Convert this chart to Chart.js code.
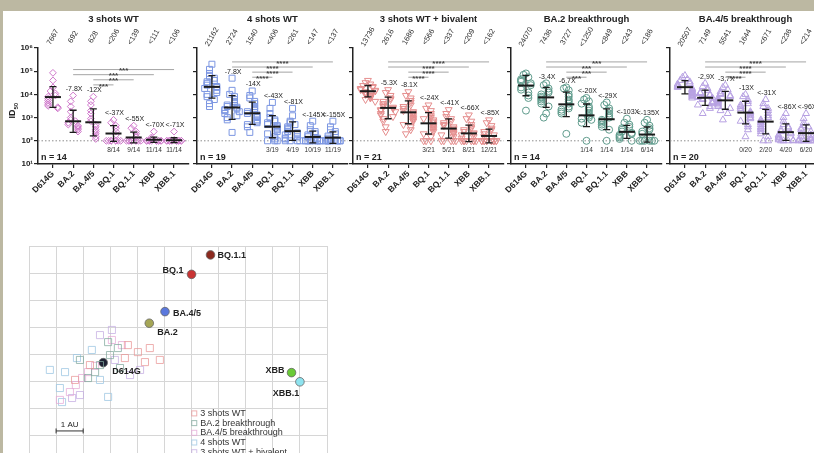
<!DOCTYPE html>
<html>
<head>
<meta charset="utf-8">
<script src="https://cdn.jsdelivr.net/npm/chart.js@4.4.1/dist/chart.umd.min.js"></script>
<style>
  html, body { margin: 0; padding: 0; background: #fff; }
  body { width: 814px; height: 453px; overflow: hidden; position: relative; }
  canvas { position: absolute; }
  .frame { position: absolute; background: #bcb8a2; z-index: 5; }
</style>
</head>
<body>
<div class="frame" style="left:0;top:0;width:814px;height:11px"></div>
<div class="frame" style="left:0;top:0;width:3px;height:453px"></div>
<canvas id="p1"></canvas>
<canvas id="p2"></canvas>
<canvas id="p3"></canvas>
<canvas id="p4"></canvas>
<canvas id="p5"></canvas>
<canvas id="map"></canvas>
<script>
const FONT = '"Liberation Sans", Arial, Helvetica, sans-serif';
Chart.defaults.font.family = FONT;
Chart.defaults.color = '#222';

// ---- data ----
const categories = ['D614G', 'BA.2', 'BA.4/5', 'BQ.1', 'BQ.1.1', 'XBB', 'XBB.1'];
const yTickValues = [10, 100, 1000, 10000, 100000, 1000000];
const sigPairs = [[1, 6], [1, 5], [2, 4], [2, 3]];

// 3 shots WT (ID50 per serum)
const wt3Titers = [
  [85000, 40000, 20000, 14000, 11000, 9000, 8000, 6500, 5500, 4500, 3800, 3200, 2800, 2500],
  [9000, 5000, 3000, 1800, 1000, 800, 700, 600, 500, 450, 400, 350, 300, 250],
  [8000, 5000, 3500, 2000, 1500, 900, 700, 500, 400, 300, 250, 200, 150, 120],
  [800, 600, 450, 350, 250, 180, 100, 100, 100, 100, 100, 100, 100, 100],
  [450, 350, 250, 200, 150, 100, 100, 100, 100, 100, 100, 100, 100, 100],
  [250, 140, 120, 100, 100, 100, 100, 100, 100, 100, 100, 100, 100, 100],
  [250, 110, 105, 100, 100, 100, 100, 100, 100, 100, 100, 100, 100, 100]
];
const wt3Gmt = [7667, 692, 628, 206, 139, 111, 106];
const wt3GmtLabels = ['7667', '692', '628', '<206', '<139', '<111', '<106'];
const wt3Fold = ['', '-7.8X', '-12X', '<-37X', '<-55X', '<-70X', '<-71X'];
const wt3BelowLod = ['', '', '', '8/14', '9/14', '11/14', '11/14'];

// 4 shots WT
const wt4Titers = [
  [200000, 120000, 80000, 60000, 50000, 40000, 35000, 30000, 25000, 22000, 20000, 18000, 15000, 12000, 10000, 8000, 6000, 4000, 3000],
  [50000, 15000, 10000, 8000, 6000, 5000, 4000, 3500, 3000, 2800, 2500, 2200, 2000, 1800, 1500, 1200, 1000, 800, 230],
  [14000, 9000, 7000, 5000, 4000, 3000, 2500, 2000, 1800, 1500, 1300, 1100, 1000, 800, 700, 600, 500, 400, 230],
  [4500, 2500, 1500, 1000, 800, 700, 600, 500, 450, 400, 350, 300, 250, 200, 150, 120, 100, 100, 100],
  [2500, 1200, 700, 600, 500, 400, 350, 300, 250, 220, 200, 180, 150, 130, 120, 100, 100, 100, 100],
  [700, 450, 300, 250, 200, 180, 150, 130, 120, 100, 100, 100, 100, 100, 100, 100, 100, 100, 100],
  [700, 400, 300, 250, 200, 160, 130, 110, 100, 100, 100, 100, 100, 100, 100, 100, 100, 100, 100]
];
const wt4Gmt = [21162, 2724, 1540, 406, 261, 147, 137];
const wt4GmtLabels = ['21162', '2724', '1540', '<406', '<261', '<147', '<137'];
const wt4Fold = ['', '-7.8X', '-14X', '<-43X', '<-81X', '<-145X', '<-155X'];
const wt4BelowLod = ['', '', '', '3/19', '4/19', '10/19', '11/19'];

// 3 shots WT + bivalent
const bivTiters = [
  [40000, 32000, 28000, 24000, 22000, 20000, 18000, 16000, 15000, 14000, 13000, 12000, 11000, 10000, 9500, 9000, 8000, 7500, 7000, 6000, 5000],
  [16000, 12000, 9000, 7000, 6000, 5000, 4000, 3500, 3000, 2800, 2500, 2200, 2000, 1800, 1500, 1300, 1100, 900, 700, 400, 250],
  [13000, 9000, 7000, 5500, 4500, 3500, 3000, 2500, 2000, 1800, 1600, 1400, 1200, 1000, 900, 800, 700, 500, 400, 300, 200],
  [3500, 2500, 2000, 1500, 1200, 1000, 900, 800, 700, 600, 500, 450, 400, 350, 300, 250, 200, 150, 100, 100, 100],
  [2200, 1500, 1100, 900, 700, 600, 500, 450, 400, 350, 300, 250, 220, 200, 180, 150, 100, 100, 100, 100, 100],
  [1300, 900, 700, 500, 400, 350, 300, 250, 220, 200, 180, 150, 130, 100, 100, 100, 100, 100, 100, 100, 100],
  [800, 600, 450, 350, 300, 250, 200, 180, 150, 100, 100, 100, 100, 100, 100, 100, 100, 100, 100, 100, 100]
];
const bivGmt = [13736, 2616, 1686, 566, 337, 209, 162];
const bivGmtLabels = ['13736', '2616', '1686', '<566', '<337', '<209', '<162'];
const bivFold = ['', '-5.3X', '-8.1X', '<-24X', '<-41X', '<-66X', '<-85X'];
const bivBelowLod = ['', '', '', '3/21', '5/21', '8/21', '12/21'];

// BA.2 breakthrough
const ba2btTiters = [
  [80000, 70000, 55000, 45000, 40000, 35000, 30000, 25000, 20000, 16000, 12000, 9000, 7000, 2000],
  [30000, 25000, 18000, 14000, 12000, 10000, 8000, 7000, 6000, 5000, 4000, 3000, 1500, 1000],
  [20000, 18000, 15000, 10000, 8000, 6000, 5000, 4000, 3000, 2500, 2200, 1800, 1500, 200],
  [7000, 6000, 5000, 4000, 3000, 2500, 2000, 1500, 1200, 1000, 900, 800, 600, 100],
  [4500, 3500, 2500, 2000, 1500, 1200, 1000, 800, 700, 600, 500, 400, 300, 100],
  [900, 600, 500, 400, 350, 300, 250, 220, 200, 180, 160, 140, 120, 100],
  [800, 600, 450, 350, 300, 250, 200, 150, 100, 100, 100, 100, 100, 100]
];
const ba2btGmt = [24070, 7436, 3727, 1250, 849, 243, 186];
const ba2btGmtLabels = ['24070', '7436', '3727', '<1250', '<849', '<243', '<186'];
const ba2btFold = ['', '-3.4X', '-6.7X', '<-20X', '<-29X', '<-103X', '<-135X'];
const ba2btBelowLod = ['', '', '', '1/14', '1/14', '1/14', '6/14'];

// BA.4/5 breakthrough
const ba45btTiters = [
  [65000, 55000, 45000, 40000, 35000, 30000, 28000, 25000, 22000, 20000, 18000, 16000, 15000, 13000, 12000, 11000, 10000, 9000, 8000, 7000],
  [30000, 22000, 18000, 15000, 12000, 11000, 10000, 9000, 8000, 7500, 7000, 6500, 6000, 5000, 4500, 4000, 3500, 3000, 2500, 1500],
  [25000, 20000, 16000, 13000, 11000, 10000, 9000, 8000, 7000, 6000, 5500, 5000, 4500, 4000, 3500, 3000, 2500, 2000, 1500, 800],
  [10000, 8000, 6000, 5000, 4000, 3500, 3000, 2500, 2000, 1800, 1600, 1400, 1200, 1000, 900, 700, 500, 400, 300, 150],
  [6000, 4000, 3000, 2500, 2000, 1500, 1200, 1000, 800, 700, 600, 500, 400, 350, 300, 250, 200, 150, 100, 100],
  [1500, 1000, 700, 500, 400, 350, 300, 250, 220, 200, 180, 160, 140, 120, 110, 105, 100, 100, 100, 100],
  [1500, 900, 600, 450, 400, 350, 300, 250, 200, 180, 150, 130, 120, 110, 100, 100, 100, 100, 100, 100]
];
const ba45btGmt = [20507, 7149, 5541, 1644, 671, 236, 214];
const ba45btGmtLabels = ['20507', '7149', '5541', '1644', '<671', '<236', '<214'];
const ba45btFold = ['', '-2.9X', '-3.7X', '-13X', '<-31X', '<-86X', '<-96X'];
const ba45btBelowLod = ['', '', '', '0/20', '2/20', '4/20', '6/20'];

// antigenic map (AU)
const mapStrains = ['D614G', 'BA.2', 'BA.4/5', 'BQ.1', 'BQ.1.1', 'XBB', 'XBB.1'];
const mapStrainX = [2.74, 4.44, 5.02, 6.0, 6.70, 9.69, 10.0];
const mapStrainY = [3.68, 5.14, 5.57, 6.95, 7.67, 3.31, 2.97];
const seraGroups = ['3 shots WT', 'BA.2 breakthrough', 'BA.4/5 breakthrough', '4 shots WT', '3 shots WT + bivalent'];
const seraWt3 = [[3.65, 4.33], [4.02, 4.07], [4.46, 4.22], [4.83, 3.78], [4.28, 3.70], [3.54, 3.85], [2.25, 3.59], [1.70, 3.04]];
const seraBa2 = [[2.99, 3.96], [3.28, 4.22], [2.62, 3.59], [2.44, 3.33], [3.36, 3.48], [2.18, 3.11], [2.92, 4.44], [1.88, 3.78]];
const seraBa45 = [[1.51, 2.59], [1.73, 2.85], [1.96, 3.11], [2.18, 3.33], [2.44, 3.56], [3.06, 4.52], [3.43, 4.33], [1.14, 2.30]];
const seraWt4 = [[1.33, 3.33], [1.77, 3.85], [1.14, 2.74], [2.32, 4.15], [2.92, 2.41], [1.22, 2.22], [0.77, 3.41], [2.62, 3.04]];
const seraBiv = [[2.62, 4.70], [3.06, 4.89], [3.73, 3.22], [4.10, 3.41], [1.88, 2.48], [1.59, 2.37], [3.17, 3.78]];

// ---- helpers ----
const SUP = ['\u2070', '\u00b9', '\u00b2', '\u00b3', '\u2074', '\u2075', '\u2076'];

function label(ctx, text, x, y, size, o = {}) {
  ctx.save();
  ctx.font = (o.bold ? 'bold ' : '') + size + 'px ' + FONT;
  ctx.fillStyle = o.color || '#222';
  ctx.textAlign = o.align || 'center';
  ctx.textBaseline = o.base || 'middle';
  ctx.translate(x, y);
  if (o.rot) ctx.rotate(o.rot);
  ctx.fillText(text, 0, 0);
  ctx.restore();
}

// simple beeswarm: spread points that sit at nearly the same titer
function swarm(vals, cat) {
  const placed = [];
  return vals.map(v => {
    const lv = Math.log10(v);
    const k = placed.filter(p => Math.abs(p - lv) < 0.3).length;
    placed.push(lv);
    const ring = k === 0 ? 0 : ((Math.ceil(k / 2) - 1) % 3) + 1;
    return {x: cat + (k % 2 ? -1 : 1) * ring * 0.12, y: v};
  });
}

function logSd(vals) {
  const l = vals.map(v => Math.log10(v));
  const m = l.reduce((a, b) => a + b, 0) / l.length;
  return Math.sqrt(l.reduce((a, b) => a + (b - m) ** 2, 0) / (l.length - 1));
}

// ---- dot-plot panels ----
const panels = [
  {id: 'p1', title: '3 shots WT', titers: wt3Titers, gmt: wt3Gmt, gmtLabels: wt3GmtLabels, fold: wt3Fold, lod: wt3BelowLod,
   stars: '***', axisX: 38, yPad: 38, sigTop: 5.07, yLabels: true, color: '#cf78cb', style: 'rectRot', rot: 0, r: 3.4},
  {id: 'p2', title: '4 shots WT', titers: wt4Titers, gmt: wt4Gmt, gmtLabels: wt4GmtLabels, fold: wt4Fold, lod: wt4BelowLod,
   stars: '****', axisX: 197, yPad: 10, sigTop: 5.4, color: '#7d97e2', style: 'rect', rot: 0, r: 4.2},
  {id: 'p3', title: '3 shots WT + bivalent', titers: bivTiters, gmt: bivGmt, gmtLabels: bivGmtLabels, fold: bivFold, lod: bivBelowLod,
   stars: '****', axisX: 353, yPad: 10, sigTop: 5.4, color: '#e58e8e', style: 'triangle', rot: 180, r: 4},
  {id: 'p4', title: 'BA.2 breakthrough', titers: ba2btTiters, gmt: ba2btGmt, gmtLabels: ba2btGmtLabels, fold: ba2btFold, lod: ba2btBelowLod,
   stars: '***', axisX: 511, yPad: 10, sigTop: 5.4, color: '#5f9b8c', style: 'circle', rot: 0, r: 3.5},
  {id: 'p5', title: 'BA.4/5 breakthrough', titers: ba45btTiters, gmt: ba45btGmt, gmtLabels: ba45btGmtLabels, fold: ba45btFold, lod: ba45btBelowLod,
   stars: '****', axisX: 670, yPad: 10, sigTop: 5.4, color: '#b7a1e2', style: 'triangle', rot: 0, r: 4}
];

const AREA_W = 152, CANVAS_TOP = 11, CANVAS_H = 200, AREA_TOP = 37, AREA_BOTTOM = 153;
const axisLine = {color: '#222', width: 1.5};
const tickMarks = {drawOnChartArea: false, drawTicks: true, tickLength: 4, color: '#222', lineWidth: 1.2};

function panelPlugin(p) {
  return {
    id: 'panelDeco',
    beforeDatasetsDraw(chart) {
      const {ctx, chartArea: a, scales: {y}} = chart;
      const ly = y.getPixelForValue(100);
      ctx.save();
      ctx.strokeStyle = '#8c8c8c';
      ctx.lineWidth = 1;
      ctx.setLineDash([1.5, 2]);
      ctx.beginPath();
      ctx.moveTo(a.left, ly);
      ctx.lineTo(a.right, ly);
      ctx.stroke();
      ctx.restore();
    },
    afterDatasetsDraw(chart) {
      const {ctx, chartArea: a, scales: {x, y}} = chart;
      const mid = (x.getPixelForValue(0) + x.getPixelForValue(6)) / 2;
      label(ctx, p.title, mid, 8, 9.5, {bold: true});

      p.titers.forEach((vals, i) => {
        const px = x.getPixelForValue(i);
        const gl = Math.log10(p.gmt[i]);
        const sd = logSd(vals);
        const yTop = y.getPixelForValue(10 ** (gl + sd));
        const yBot = y.getPixelForValue(10 ** (gl - sd));
        const yMean = y.getPixelForValue(p.gmt[i]);
        ctx.save();
        ctx.strokeStyle = '#1b1b1b';
        ctx.lineWidth = 1.3;
        ctx.beginPath();
        ctx.moveTo(px, yTop); ctx.lineTo(px, yBot);
        ctx.moveTo(px - 3.5, yTop); ctx.lineTo(px + 3.5, yTop);
        ctx.moveTo(px - 3.5, yBot); ctx.lineTo(px + 3.5, yBot);
        ctx.stroke();
        ctx.lineWidth = 2;
        ctx.beginPath();
        ctx.moveTo(px - 8, yMean); ctx.lineTo(px + 8, yMean);
        ctx.stroke();
        ctx.restore();

        // GMT value above the plot
        label(ctx, p.gmtLabels[i], px, a.top - 11, 7.5, {rot: -Math.PI / 3, color: '#333'});
        // fold change
        if (p.fold[i]) {
          const yl = Math.min(y.getPixelForValue(Math.max(...vals)), yTop) - 3;
          label(ctx, p.fold[i], px + 1, yl, 7, {base: 'bottom'});
        }
        if (p.lod[i]) label(ctx, p.lod[i], px, y.getPixelForValue(100) + 9, 6.5, {color: '#333'});
      });

      // significance brackets
      sigPairs.forEach(([f, t], k) => {
        const ly = y.getPixelForValue(10 ** (p.sigTop - 0.22 * k));
        const x1 = x.getPixelForValue(f), x2 = x.getPixelForValue(t);
        ctx.save();
        ctx.strokeStyle = '#9a9a9a';
        ctx.lineWidth = 0.9;
        ctx.beginPath();
        ctx.moveTo(x1, ly); ctx.lineTo(x2, ly);
        ctx.stroke();
        ctx.restore();
        label(ctx, p.stars, (x1 + x2) / 2, ly - 2.5, 8, {bold: true, base: 'top', color: '#444'});
      });

      label(ctx, 'n = ' + p.titers[0].length, a.left + 3, a.bottom - 6, 9, {bold: true, align: 'left'});

      if (p.yLabels) {
        const cy = (y.getPixelForValue(1e4) + y.getPixelForValue(1e3)) / 2 + 4;
        ctx.save();
        ctx.translate(13, cy);
        ctx.rotate(-Math.PI / 2);
        ctx.fillStyle = '#222';
        ctx.textBaseline = 'middle';
        ctx.font = 'bold 9px ' + FONT;
        const w = ctx.measureText('ID').width;
        ctx.textAlign = 'left';
        ctx.fillText('ID', -(w + 8) / 2, 0);
        ctx.font = 'bold 6px ' + FONT;
        ctx.fillText('50', -(w + 8) / 2 + w, 3);
        ctx.restore();
      }
    }
  };
}

panels.forEach(p => {
  const cv = document.getElementById(p.id);
  cv.width = p.yPad + AREA_W + 4;
  cv.height = CANVAS_H;
  cv.style.left = (p.axisX - p.yPad) + 'px';
  cv.style.top = CANVAS_TOP + 'px';
  const points = [];
  p.titers.forEach((vals, i) => points.push(...swarm(vals, i)));
  new Chart(cv, {
    type: 'scatter',
    data: {
      datasets: [{
        data: points,
        pointStyle: p.style,
        pointRotation: p.rot,
        pointRadius: p.r,
        pointBorderColor: p.color,
        pointBackgroundColor: 'rgba(255,255,255,0)',
        pointBorderWidth: 1
      }]
    },
    options: {
      responsive: false,
      animation: false,
      layout: {padding: {top: AREA_TOP, left: 0, right: 4, bottom: 0}},
      plugins: {legend: {display: false}, tooltip: {enabled: false}},
      scales: {
        x: {
          type: 'linear', min: -0.74, max: 6.74,
          afterBuildTicks: s => { s.ticks = categories.map((c, i) => ({value: i})); },
          afterFit: s => { s.height = CANVAS_H - AREA_BOTTOM; },
          ticks: {callback: v => categories[v], autoSkip: false, minRotation: 45, maxRotation: 45,
                  font: {size: 8.5, weight: 'bold'}, color: '#222', padding: 1},
          grid: tickMarks,
          border: axisLine
        },
        y: {
          type: 'logarithmic', min: 10, max: 1e6,
          afterBuildTicks: s => { s.ticks = yTickValues.map(v => ({value: v})); },
          afterFit: s => { s.width = p.yPad; },
          ticks: {display: !!p.yLabels, callback: v => '10' + SUP[Math.round(Math.log10(v))],
                  font: {size: 8, weight: 'bold'}, color: '#222', padding: 1},
          grid: tickMarks,
          border: axisLine
        }
      }
    },
    plugins: [panelPlugin(p)]
  });
});

// ---- antigenic map ----
const seraColors = ['rgba(232,150,150,0.75)', 'rgba(130,168,158,0.75)', 'rgba(228,168,214,0.75)', 'rgba(160,200,228,0.8)', 'rgba(196,172,226,0.75)'];
const strainColors = ['#1d2233', '#a5a656', '#5a78dd', '#c93434', '#8b2a1f', '#6acb37', '#8ee3ef'];
const strainLabelPos = {
  'D614G': [9, 9, 'left'], 'BA.2': [8, 9, 'left'], 'BA.4/5': [8, 2, 'left'], 'BQ.1': [-8, -4, 'right'],
  'BQ.1.1': [7, 1, 'left'], 'XBB': [-7, -2, 'right'], 'XBB.1': [-14, 12, 'center']
};

const mapCanvas = document.getElementById('map');
mapCanvas.width = 340;
mapCanvas.height = 260;
mapCanvas.style.left = '0px';
mapCanvas.style.top = '230px';

const seraSets = [seraWt3, seraBa2, seraBa45, seraWt4, seraBiv].map((pts, g) => ({
  label: seraGroups[g],
  data: pts.map(([x, y]) => ({x, y})),
  pointStyle: 'rect',
  pointRadius: 5,
  pointBorderColor: seraColors[g],
  pointBackgroundColor: 'rgba(255,255,255,0)',
  pointBorderWidth: 1
}));

const mapDeco = {
  id: 'mapDeco',
  afterDatasetsDraw(chart) {
    const {ctx, scales: {x, y}} = chart;
    mapStrains.forEach((name, i) => {
      const [dx, dy, al] = strainLabelPos[name];
      label(ctx, name, x.getPixelForValue(mapStrainX[i]) + dx, y.getPixelForValue(mapStrainY[i]) + dy, 9,
            {bold: true, align: al});
    });
    // scale bar, 1 AU
    const x1 = x.getPixelForValue(1), x2 = x.getPixelForValue(2), sy = y.getPixelForValue(1.15);
    ctx.save();
    ctx.strokeStyle = '#333';
    ctx.lineWidth = 1;
    ctx.beginPath();
    ctx.moveTo(x1, sy); ctx.lineTo(x2, sy);
    ctx.moveTo(x1, sy - 2.5); ctx.lineTo(x1, sy + 2.5);
    ctx.moveTo(x2, sy - 2.5); ctx.lineTo(x2, sy + 2.5);
    ctx.stroke();
    ctx.restore();
    label(ctx, '1 AU', (x1 + x2) / 2, sy - 6, 8);
    // legend
    const lx = x.getPixelForValue(6.1), ly0 = y.getPixelForValue(1.8);
    chart.data.datasets.slice(0, seraGroups.length).forEach((ds, g) => {
      const ly = ly0 + g * 9.7;
      ctx.save();
      ctx.strokeStyle = ds.pointBorderColor;
      ctx.lineWidth = 1;
      ctx.strokeRect(lx - 2.5, ly - 2.5, 5, 5);
      ctx.restore();
      label(ctx, ds.label, lx + 6, ly, 9, {align: 'left', color: '#333'});
    });
  }
};

const mapGrid = {color: '#d6d6d6', lineWidth: 1, drawTicks: false};
new Chart(mapCanvas, {
  type: 'scatter',
  data: {
    datasets: [...seraSets, {
      label: 'strains',
      data: mapStrainX.map((x, i) => ({x, y: mapStrainY[i]})),
      pointRadius: 4.3,
      pointBackgroundColor: strainColors,
      pointBorderColor: '#666',
      pointBorderWidth: 0.8
    }]
  },
  options: {
    responsive: false,
    animation: false,
    layout: {padding: {left: 29, top: 16, right: 13, bottom: 28}},
    plugins: {legend: {display: false}, tooltip: {enabled: false}},
    scales: {
      x: {type: 'linear', min: 0, max: 11, ticks: {display: false, stepSize: 1}, grid: mapGrid,
          border: {color: '#d6d6d6'}, afterFit: s => { s.height = 0; }},
      y: {type: 'linear', min: 0, max: 8, ticks: {display: false, stepSize: 1}, grid: mapGrid,
          border: {color: '#d6d6d6'}, afterFit: s => { s.width = 0; }}
    }
  },
  plugins: [mapDeco]
});
</script>
</body>
</html>
